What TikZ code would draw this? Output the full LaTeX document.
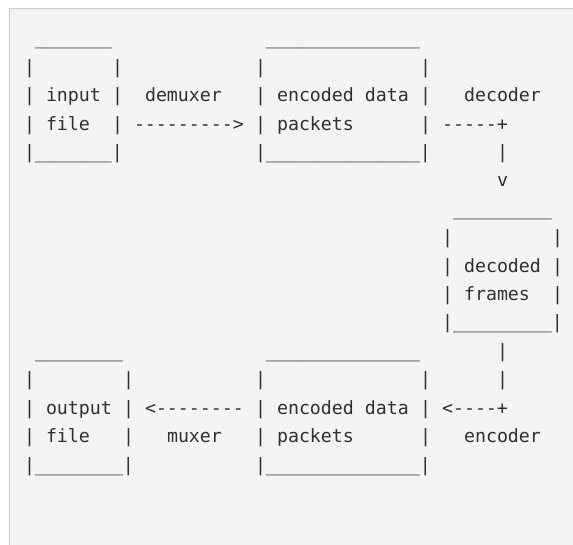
\documentclass[tikz,border=0pt]{standalone}
\usepackage{fontspec}
\setmonofont{DejaVu Sans Mono}
\usepackage{tikz}

\definecolor{ink}{RGB}{48,48,48}
\definecolor{panel}{RGB}{244,244,244}
\definecolor{rim}{RGB}{205,205,205}

\tikzset{
  asc/.style={anchor=base west, inner sep=0pt, outer sep=0pt, text=ink,
    font=\fontsize{18.27}{20}\selectfont\ttfamily}
}

\begin{document}
\begin{tikzpicture}[x=1pt, y=-1pt]
	\useasboundingbox (0,0) rectangle (573,545);
	\fill[white] (0,0) rectangle (573,545);
	\fill[panel] (9,8) rectangle (573,545);
	\draw[rim, line width=1.5pt] (9.5,545) -- (9.5,8.5) -- (573,8.5);

	\begin{scope}[shift={(24,45)}, x=11pt, y=-28.4pt]
	% input file
	\node[asc] (inT) at (1,0) {\_\_\_\_\_\_\_};
	\foreach \l in {1,2,3} {
		\node[asc] (inL\l) at (0,\l) {|};
		\node[asc] (inR\l) at (8,\l) {|};
	}
	\node[asc] (in1) at (2,2) {input};
	\node[asc] (in2) at (2,3) {file};
	\node[asc] (inB) at (0,4) {|\_\_\_\_\_\_\_|};

	% demuxer
	\node[asc] (dmx) at (11,2) {demuxer};
	\node[asc] (dmxA) at (10,3) {--------->};

	% encoded data packets (top)
	\node[asc] (epT) at (22,0) {\_\_\_\_\_\_\_\_\_\_\_\_\_\_};
	\foreach \l in {1,2,3} {
		\node[asc] (epL\l) at (21,\l) {|};
		\node[asc] (epR\l) at (36,\l) {|};
	}
	\node[asc] (ep1) at (23,2) {encoded data};
	\node[asc] (ep2) at (23,3) {packets};
	\node[asc] (epB) at (21,4) {|\_\_\_\_\_\_\_\_\_\_\_\_\_\_|};

	% decoder
	\node[asc] (dec) at (40,2) {decoder};
	\node[asc] (decA) at (38,3) {-----+};
	\node[asc] (decV) at (43,4) {|};
	\node[asc] (decH) at (43,5) {v};

	% decoded frames
	\node[asc] (dfT) at (39,6) {\_\_\_\_\_\_\_\_\_};
	\foreach \l in {7,8,9} {
		\node[asc] (dfL\l) at (38,\l) {|};
		\node[asc] (dfR\l) at (48,\l) {|};
	}
	\node[asc] (df1) at (40,8) {decoded};
	\node[asc] (df2) at (40,9) {frames};
	\node[asc] (dfB) at (38,10) {|\_\_\_\_\_\_\_\_\_|};

	% encoder
	\node[asc] (encV1) at (43,11) {|};
	\node[asc] (encV2) at (43,12) {|};
	\node[asc] (encA) at (38,13) {<----+};
	\node[asc] (enc) at (40,14) {encoder};

	% encoded data packets (bottom)
	\node[asc] (eqT) at (22,11) {\_\_\_\_\_\_\_\_\_\_\_\_\_\_};
	\foreach \l in {12,13,14} {
		\node[asc] (eqL\l) at (21,\l) {|};
		\node[asc] (eqR\l) at (36,\l) {|};
	}
	\node[asc] (eq1) at (23,13) {encoded data};
	\node[asc] (eq2) at (23,14) {packets};
	\node[asc] (eqB) at (21,15) {|\_\_\_\_\_\_\_\_\_\_\_\_\_\_|};

	% muxer
	\node[asc] (mxA) at (11,13) {<--------};
	\node[asc] (mx) at (13,14) {muxer};

	% output file
	\node[asc] (outT) at (1,11) {\_\_\_\_\_\_\_\_};
	\foreach \l in {12,13,14} {
		\node[asc] (outL\l) at (0,\l) {|};
		\node[asc] (outR\l) at (9,\l) {|};
	}
	\node[asc] (out1) at (2,13) {output};
	\node[asc] (out2) at (2,14) {file};
	\node[asc] (outB) at (0,15) {|\_\_\_\_\_\_\_\_|};
	\end{scope}
\end{tikzpicture}
\end{document}
